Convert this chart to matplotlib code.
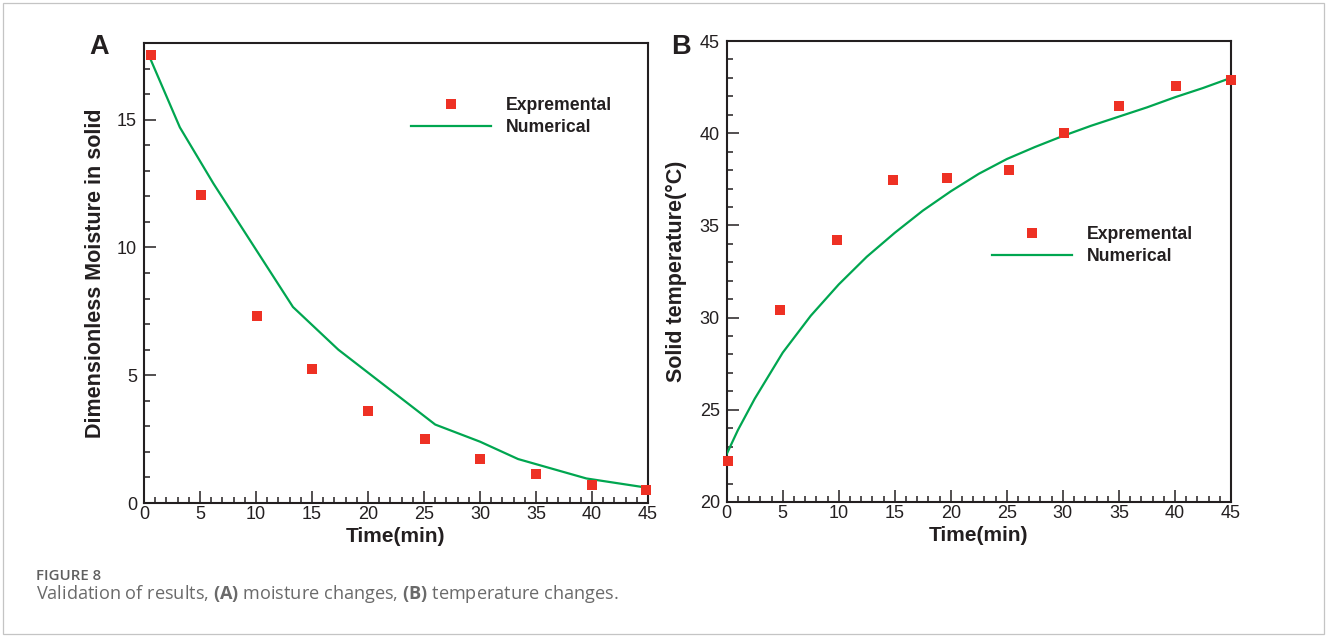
import matplotlib
matplotlib.use('Agg')
import numpy as np
import matplotlib.pyplot as plt
from matplotlib.lines import Line2D
from matplotlib.patches import Rectangle
from matplotlib.ticker import MultipleLocator

plt.rcParams['font.family'] = ['Liberation Sans', 'DejaVu Sans']
# bold "(A)" / "(B)" in the caption in the same face as the caption text
plt.rcParams['mathtext.fontset'] = 'custom'
plt.rcParams['mathtext.bf'] = 'Open Sans:bold'
plt.rcParams['mathtext.rm'] = 'Open Sans'

# === data ===
# (A) moisture
a_exp_t = [0.6, 5.1, 10.1, 15.0, 20.0, 25.1, 30.0, 35.0, 40.0, 44.8]
a_exp_m = [17.55, 12.07, 7.3, 5.25, 3.6, 2.51, 1.74, 1.13, 0.70, 0.52]
a_num_t = [0.4, 3.2, 6.2, 13.3, 17.35, 26.0, 30.0, 33.4, 39.5, 44.9]
a_num_m = [17.55, 14.7, 12.5, 7.67, 6.0, 3.07, 2.4, 1.72, 0.96, 0.6]

# (B) temperature
b_exp_t = [0.1, 4.8, 9.8, 14.8, 19.7, 25.2, 30.1, 35.0, 40.1, 45.0]
b_exp_T = [22.2, 30.4, 34.2, 37.46, 37.59, 38.0, 40.03, 41.48, 42.56, 42.9]
b_num_t = [0, 1, 2.5, 5, 7.5, 10, 12.5, 15, 17.5, 20, 22.5, 25, 27.5, 30, 32.5, 35, 37.5, 40, 42.5, 45]
b_num_T = [22.6, 23.9, 25.6, 28.1, 30.1, 31.8, 33.3, 34.6, 35.8, 36.85, 37.8, 38.6, 39.25,
           39.85, 40.4, 40.9, 41.4, 41.95, 42.45, 43.0]

RED = '#ee3124'
GREEN = '#00a650'
INK = '#231f20'

W, H = 1327, 637
fig = plt.figure(figsize=(W / 100, H / 100), dpi=100)

def px_axes(l, t, r, b):
    return fig.add_axes([l / W, 1 - b / H, (r - l) / W, (b - t) / H])

axA = px_axes(144, 43, 648, 503)
axB = px_axes(726.7, 41, 1231, 502)

def style(ax):
    for s in ax.spines.values():
        s.set_linewidth(1.5)
        s.set_color(INK)
    ax.xaxis.set_major_locator(MultipleLocator(5))
    ax.xaxis.set_minor_locator(MultipleLocator(1))
    ax.yaxis.set_major_locator(MultipleLocator(5))
    ax.yaxis.set_minor_locator(MultipleLocator(1))
    ax.tick_params(which='both', direction='in', top=False, right=False,
                   color=INK, labelcolor=INK, labelsize=13, width=1.1)
    ax.tick_params(which='major', length=8.8)
    ax.tick_params(which='minor', length=4.5)
    ax.tick_params(axis='x', pad=2)
    ax.tick_params(axis='y', pad=5)
    ax.set_xlim(0, 45)

def add_legend(ax, x, y):
    handles = [Line2D([], [], ls='none', marker='s', ms=7.6, mew=0, color=RED),
               Line2D([], [], color=GREEN, lw=1.6)]
    ax.legend(handles, ['Expremental', 'Numerical'], loc='upper left',
              bbox_to_anchor=(x, y), frameon=False, borderpad=0, borderaxespad=0,
              handlelength=4.55, handletextpad=0.84, labelspacing=0.28,
              prop={'size': 12.7, 'weight': 'bold'}, labelcolor=INK)

# panel A
style(axA)
axA.plot(a_num_t, a_num_m, color=GREEN, lw=1.6, zorder=3)
axA.plot(a_exp_t, a_exp_m, ls='none', marker='s', ms=7.6, mew=0, color=RED,
         clip_on=False, zorder=4)
axA.set_ylim(0, 18)
axA.set_xlabel('Time(min)', fontsize=15, fontweight='bold', color=INK, labelpad=3)
axA.set_ylabel('Dimensionless Moisture in solid', fontsize=15.5, fontweight='bold',
               color=INK, labelpad=8)
add_legend(axA, 0.529, 0.882)

# panel B
style(axB)
axB.plot(b_num_t, b_num_T, color=GREEN, lw=1.6, zorder=3)
axB.plot(b_exp_t, b_exp_T, ls='none', marker='s', ms=7.6, mew=0, color=RED,
         clip_on=False, zorder=4)
axB.set_ylim(20, 45)
axB.set_xlabel('Time(min)', fontsize=15, fontweight='bold', color=INK, labelpad=3)
axB.set_ylabel('Solid temperature(°C)', fontsize=15.5, fontweight='bold',
               color=INK, labelpad=9)
add_legend(axB, 0.526, 0.598)

# panel letters
fig.text(89 / W, 1 - 54 / H, 'A', fontsize=19.5, fontweight='bold', color=INK, va='baseline')
fig.text(671 / W, 1 - 54 / H, 'B', fontsize=19.5, fontweight='bold', color=INK, va='baseline')

# caption + frame
fig.text(36 / W, 1 - 580 / H, 'FIGURE 8', fontsize=10.8, fontweight='semibold',
         color='#5f5f5f', family=['Open Sans', 'DejaVu Sans'], va='baseline')
fig.text(36 / W, 1 - 599 / H,
         'Validation of results, $\\mathbf{(A)}$ moisture changes, $\\mathbf{(B)}$ temperature changes.',
         fontsize=13.1, color='#6a6a6a', family=['Open Sans', 'DejaVu Sans'], va='baseline')
fig.patches.append(Rectangle((3 / W, 3 / H), (W - 6) / W, (H - 6) / H,
                             transform=fig.transFigure, fill=False,
                             edgecolor='#c4c4c4', lw=0.9))

fig.savefig('out.png', dpi=100)
